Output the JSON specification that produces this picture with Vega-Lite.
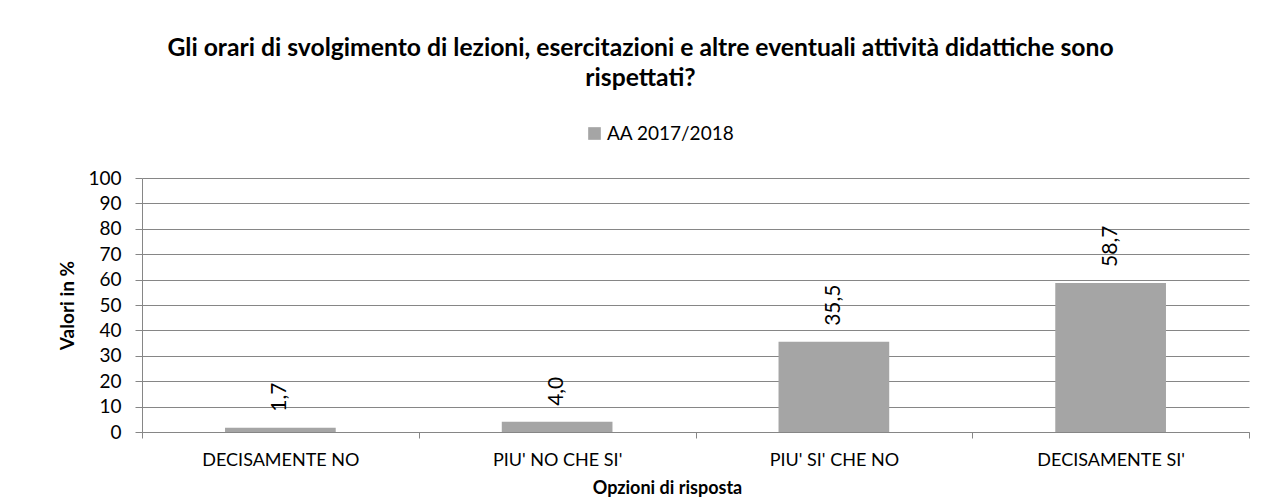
{
  "$schema": "https://vega.github.io/schema/vega-lite/v6.json",
  "autosize": "none",
  "width": 1107,
  "height": 254,
  "padding": {"left": 142, "top": 178, "right": 38, "bottom": 68},
  "background": "white",
  "title": {
    "text": ["Gli orari di svolgimento di lezioni, esercitazioni e altre eventuali attività didattiche sono", "rispettati?"],
    "font": "Lato",
    "fontSize": 24.7,
    "fontWeight": "bold",
    "color": "#000000",
    "anchor": "middle",
    "dx": -55,
    "offset": 33,
    "lineHeight": 30
  },
  "data": {
    "values": [
      {"opzione": "DECISAMENTE NO", "serie": "AA 2017/2018", "valore": 1.7},
      {"opzione": "PIU' NO CHE SI'", "serie": "AA 2017/2018", "valore": 4.0},
      {"opzione": "PIU' SI' CHE NO", "serie": "AA 2017/2018", "valore": 35.5},
      {"opzione": "DECISAMENTE SI'", "serie": "AA 2017/2018", "valore": 58.7}
    ]
  },
  "encoding": {
    "x": {
      "field": "opzione",
      "type": "nominal",
      "sort": null,
      "scale": {"paddingInner": 0, "paddingOuter": 0},
      "axis": {
        "title": "Opzioni di risposta",
        "titleFont": "Lato",
        "titleFontSize": 18,
        "titleFontWeight": "bold",
        "titleColor": "#000000",
        "titlePadding": 10,
        "titleX": 525,
        "labelAngle": 0,
        "labelFont": "Lato",
        "labelFontSize": 18,
        "labelColor": "#000000",
        "labelPadding": 13,
        "tickBand": "extent",
        "tickSize": 6,
        "tickColor": "#868686",
        "domainColor": "#868686",
        "grid": false
      }
    },
    "y": {
      "field": "valore",
      "type": "quantitative",
      "scale": {"domain": [0, 100], "nice": false},
      "axis": {
        "title": "Valori in %",
        "titleFont": "Lato",
        "titleFontSize": 19,
        "titleFontWeight": "bold",
        "titleColor": "#000000",
        "titlePadding": 10,
        "values": [0, 10, 20, 30, 40, 50, 60, 70, 80, 90, 100],
        "format": "d",
        "labelFont": "Lato",
        "labelFontSize": 19,
        "labelColor": "#000000",
        "labelPadding": 14,
        "tickSize": 7,
        "tickColor": "#868686",
        "domainColor": "#868686",
        "gridColor": "#868686",
        "grid": true
      }
    }
  },
  "layer": [
    {
      "mark": {"type": "bar", "width": {"band": 0.4}, "color": "#A5A5A5"},
      "encoding": {
        "color": {
          "field": "serie",
          "type": "nominal",
          "scale": {"range": ["#A5A5A5"]},
          "legend": {
            "title": null,
            "orient": "none",
            "legendX": 443,
            "legendY": -54,
            "symbolType": "square",
            "symbolSize": 160,
            "symbolStrokeWidth": 0,
            "labelFont": "Lato",
            "labelFontSize": 19,
            "labelColor": "#000000",
            "labelOffset": 3
          }
        }
      }
    },
    {
      "mark": {
        "type": "text",
        "angle": -90,
        "align": "left",
        "baseline": "middle",
        "dx": 16,
        "font": "Lato",
        "fontSize": 21,
        "color": "#000000"
      },
      "encoding": {
        "text": {"field": "valore", "type": "quantitative", "format": ".1f"}
      }
    }
  ],
  "config": {
    "locale": {
      "number": {"decimal": ",", "thousands": ".", "grouping": [3], "currency": ["€", ""]}
    },
    "view": {"stroke": null}
  }
}
